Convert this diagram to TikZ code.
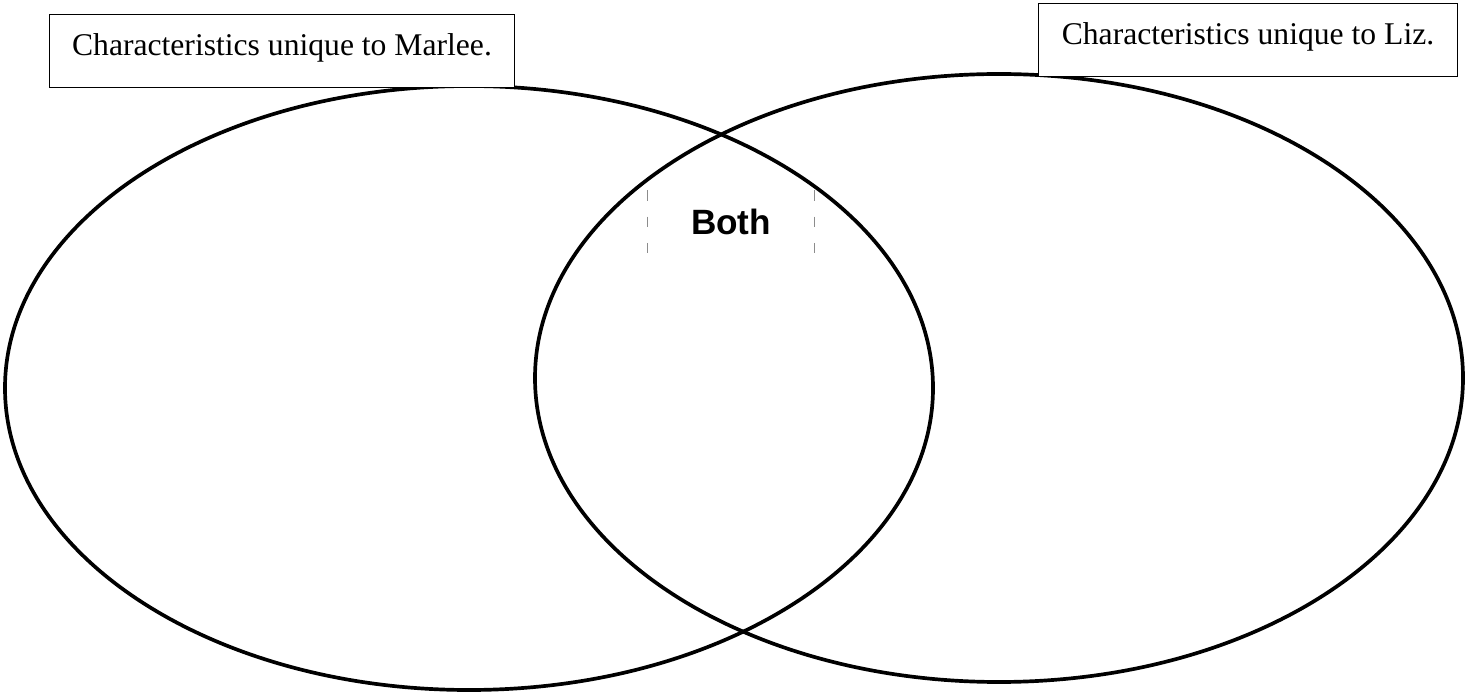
\documentclass[tikz,border=0pt]{standalone}
\usepackage{fontspec}
\setmainfont{Liberation Serif}
\newfontfamily\bothfont{Liberation Sans}
\usetikzlibrary{positioning}

\begin{document}
\begin{tikzpicture}[
  x=0.02cm, y=0.02cm,
  ring/.style={line width=2.1pt},
  tag/.style={draw, line width=0.6pt, inner sep=0pt, anchor=north west,
    text height=0.82cm, text depth=0.64cm, font=\fontsize{18}{22}\selectfont},
  sidebar/.style={draw=black!45, line width=0.5pt, dash pattern=on 6pt off 9pt}
]
  \useasboundingbox (0,0) rectangle (1473,693);

  % The two sets
  \draw[ring] (469,305) ellipse [x radius=464, y radius=302];
  \draw[ring] (999,315) ellipse [x radius=464, y radius=304];

  % Labels at the top
  \node[tag, minimum width=9.3cm, fill=white] (marlee) at (49,679) {Characteristics unique to Marlee.};
  \node[tag, minimum width=8.38cm, fill=white] (liz) at (1038,690) {Characteristics unique to Liz.};

  % Overlap label
  \node[minimum width=3.32cm, minimum height=1.26cm, font=\bothfont\bfseries\fontsize{20}{24}\selectfont]
    (both) at (731,471) {Both};
  \draw[sidebar] (both.north west) -- (both.south west);
  \draw[sidebar] (both.north east) -- (both.south east);

\end{tikzpicture}
\end{document}
